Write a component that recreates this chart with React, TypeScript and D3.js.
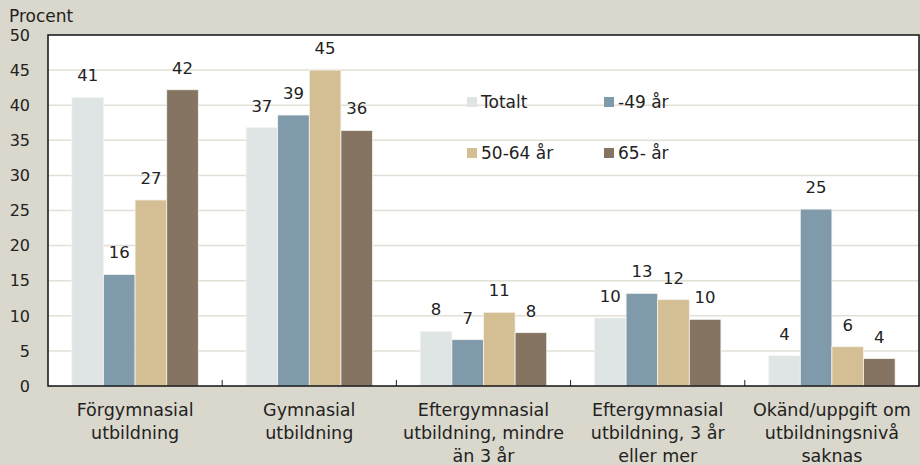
import * as d3 from "d3";

const categories = [
  ["Förgymnasial", "utbildning"],
  ["Gymnasial", "utbildning"],
  ["Eftergymnasial", "utbildning, mindre", "än 3 år"],
  ["Eftergymnasial", "utbildning, 3 år", "eller mer"],
  ["Okänd/uppgift om", "utbildningsnivå", "saknas"],
];
const seriesNames = ["Totalt", "-49 år", "50-64 år", "65- år"];
const totalt = [41.1, 36.8, 7.8, 9.7, 4.3];
const under49 = [15.9, 38.6, 6.6, 13.2, 25.2];
const age5064 = [26.5, 45.0, 10.5, 12.3, 5.6];
const age65 = [42.2, 36.4, 7.6, 9.5, 3.9];
const yTicks = [0, 5, 10, 15, 20, 25, 30, 35, 40, 45, 50];

const colors = ["#dfe5e4", "#7e9aab", "#d4be93", "#857461"];
const W = 920, H = 465;
const m = { left: 48, right: 919, top: 35, bottom: 386 };
const font = "'DejaVu Sans', sans-serif";

const App = () => {
  const series = [totalt, under49, age5064, age65];
  const x0 = d3.scaleBand<number>().domain(d3.range(categories.length)).range([m.left, m.right]).paddingInner(0).paddingOuter(0);
  const x1 = d3.scaleBand<number>().domain(d3.range(series.length)).range([0, x0.bandwidth()]).paddingOuter(0.755).paddingInner(0);
  const y = d3.scaleLinear().domain([0, 50]).range([m.bottom, m.top]);

  const legendPos = [[467, 102], [604, 102], [467, 153], [604, 153]];

  return (
    <div style={{ position: "absolute", left: 0, top: 0 }}>
      <svg width={W} height={H} style={{ display: "block", fontFamily: font }}>
        <rect x={0} y={0} width={W} height={H} fill="#dad8cc" />
        <rect x={m.left} y={m.top} width={m.right - m.left} height={m.bottom - m.top} fill="#ffffff" />
        {yTicks.slice(1, -1).map((t) => (
          <line key={t} x1={m.left} x2={m.right} y1={y(t)} y2={y(t)} stroke="#e2dfd6" strokeWidth={1.5} />
        ))}
        {yTicks.map((t) => (
          <text key={t} x={30} y={y(t)} dy="0.36em" textAnchor="end" fontSize={16} fill="#222">{t}</text>
        ))}
        <text x={9} y={22} fontSize={17} fill="#222">Procent</text>
        {series.map((vals, si) => vals.map((v, ci) => {
          const bx = x0(ci)! + x1(si)!;
          const bw = x1.bandwidth();
          return (
            <g key={`${si}-${ci}`}>
              <rect x={bx} y={y(v)} width={bw} height={y(0) - y(v)} fill={colors[si]} stroke="#f4f4f0" strokeWidth={0.8} />
              <text x={bx + bw / 2} y={y(v) - 16} textAnchor="middle" fontSize={16.5} fill="#222">{Math.round(v)}</text>
            </g>
          );
        }))}
        {d3.range(1, categories.length).map((i) => (
          <line key={i} x1={x0(i)} x2={x0(i)} y1={m.bottom} y2={m.bottom - 6} stroke="#222" strokeWidth={1} />
        ))}
        <rect x={m.left} y={m.top} width={m.right - m.left} height={m.bottom - m.top} fill="none" stroke="#111" strokeWidth={1.5} />
        {categories.map((lines, ci) => (
          <text key={ci} x={x0(ci)! + x0.bandwidth() / 2} textAnchor="middle" fontSize={17.5} fill="#222">
            {lines.map((l, li) => (
              <tspan key={li} x={x0(ci)! + x0.bandwidth() / 2} y={416 + li * 23}>{l}</tspan>
            ))}
          </text>
        ))}
        {seriesNames.map((name, i) => (
          <g key={name}>
            <rect x={legendPos[i][0]} y={legendPos[i][1] - 5} width={10} height={10} fill={colors[i]} />
            <text x={legendPos[i][0] + 14} y={legendPos[i][1]} dy="0.36em" fontSize={17} fill="#222">{name}</text>
          </g>
        ))}
      </svg>
    </div>
  );
};

export default App;
